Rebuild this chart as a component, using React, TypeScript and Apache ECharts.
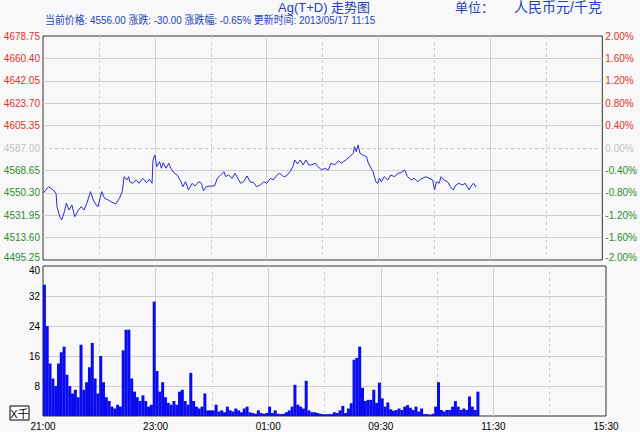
import React, { useEffect, useRef } from 'react';
import * as echarts from 'echarts';

// ---- data ----
const BASE_PRICE = 4495.25; // bottom of price axis
const xTickLabels = ['21:00', '23:00', '01:00', '09:30', '11:30', '15:30'];
const priceTickLabels = ['4495.25', '4513.60', '4531.95', '4550.30', '4568.65', '4587.00', '4605.35', '4623.70', '4642.05', '4660.40', '4678.75'];
const pctTickLabels = ['-2.00%', '-1.60%', '-1.20%', '-0.80%', '-0.40%', '0.00%', '0.40%', '0.80%', '1.20%', '1.60%', '2.00%'];
const volTickLabels = ['', '8', '16', '24', '32', '40'];

// minutes of trading since 21:00
const priceMinutes = [
  0, 6, 11, 14, 15, 18, 20, 23, 25, 28, 31, 34, 38, 41, 44, 47, 51, 54, 57, 59,
  63, 66, 70, 73, 78, 82, 85, 87, 90, 92, 93, 96, 100, 103, 107, 111, 114, 117, 118, 120,
  122, 125, 127, 129, 132, 135, 137, 141, 144, 148, 150, 153, 156, 160, 163, 167, 170, 172, 175, 180,
  184, 187, 189, 194, 196, 199, 203, 206, 208, 212, 215, 219, 222, 226, 229, 233, 237, 240, 244, 247,
  251, 254, 258, 261, 265, 268, 270, 273, 276, 279, 282, 285, 288, 292, 295, 299, 302, 306, 309, 313,
  317, 320, 324, 329, 333, 334, 336, 338, 340, 343, 347, 349, 352, 354, 357, 359, 361, 363, 366, 370,
  373, 377, 381, 384, 388, 391, 395, 398, 402, 405, 411, 414, 418, 420, 422, 425, 427, 430, 434, 437,
  440, 443, 446, 450, 453, 457, 460, 462, 464, 465,
];
const prices = [
  4549.9, 4555.3, 4552.6, 4549.9, 4538.9, 4530.7, 4528.0, 4534.8, 4541.7, 4536.2, 4540.3, 4530.7, 4536.2, 4538.9, 4536.2, 4541.7, 4551.2, 4544.4, 4540.3, 4538.9,
  4551.2, 4545.8, 4544.4, 4543.0, 4541.1, 4545.8, 4551.2, 4563.5, 4560.8, 4563.5, 4559.4, 4558.1, 4560.8, 4558.1, 4562.2, 4558.6, 4561.4, 4558.1, 4577.2, 4581.3,
  4571.7, 4575.8, 4570.4, 4575.0, 4570.4, 4574.5, 4570.4, 4566.3, 4564.9, 4559.4, 4555.3, 4559.4, 4552.6, 4558.1, 4555.9, 4559.4, 4558.1, 4552.0, 4555.3, 4555.9,
  4555.9, 4562.2, 4563.5, 4567.6, 4563.5, 4564.9, 4562.2, 4566.3, 4563.5, 4558.1, 4559.4, 4564.1, 4559.4, 4558.6, 4555.3, 4556.7, 4559.4, 4558.1, 4562.2, 4560.8,
  4564.9, 4566.3, 4563.5, 4564.1, 4567.6, 4571.7, 4577.2, 4573.9, 4577.2, 4573.1, 4577.2, 4573.1, 4573.1, 4574.5, 4571.7, 4569.0, 4570.4, 4569.0, 4574.5, 4573.1,
  4576.6, 4574.5, 4576.6, 4579.9, 4582.7, 4588.1, 4584.0, 4589.5, 4582.7, 4581.3, 4579.9, 4574.5, 4570.4, 4567.6, 4559.4, 4558.1, 4562.2, 4559.4, 4563.5, 4560.8,
  4564.9, 4563.5, 4566.3, 4566.8, 4569.0, 4563.5, 4560.8, 4562.2, 4559.4, 4561.4, 4563.5, 4562.2, 4560.8, 4552.6, 4559.4, 4558.1, 4563.5, 4560.8, 4559.4, 4555.3,
  4552.6, 4556.7, 4558.1, 4556.7, 4558.1, 4552.6, 4556.7, 4558.1, 4555.3, 4556.0,
];

// volume (thousands), one value per 3-minute bucket from 21:00
const VOL_STEP = 3;
const volumes = [
  35, 24, 14, 10, 8, 14, 17, 18.5, 11, 8,
  6, 7, 5, 19, 7, 9, 13, 19.5, 10, 6,
  16, 9, 5, 4, 2.5, 2, 3, 2.5, 17.5, 23,
  23, 10, 6.5, 5, 4, 5.5, 4, 2.5, 3, 30.5,
  12, 6.5, 9, 5, 3.5, 3, 4, 3, 6.5, 7,
  4, 3, 11.5, 4, 2.5, 2, 2.5, 6, 1.5, 1.5,
  1.5, 3, 1.2, 1.5, 1, 2.5, 1.5, 1.2, 2, 1.5,
  1, 2, 2.5, 1, 0.8, 0.6, 1.5, 0.8, 0.6, 0.8,
  2.5, 0.8, 1.5, 0.6, 0.5, 0.6, 1, 1.5, 2.5, 8.3,
  3, 2.5, 2, 9.4, 1.5, 1, 1, 0.8, 0.6, 0.5,
  0.5, 0.5, 0.5, 1, 0.8, 1.5, 2.7, 0.8, 2, 3.4,
  15, 15.5, 18.5, 7.5, 4, 4.3, 4.3, 7, 3.5, 8.9,
  4.7, 2.5, 3.6, 1.8, 1.4, 1.6, 2, 1.6, 2.5, 2.9,
  2.2, 1.6, 2.5, 1.2, 2, 0.5, 0.5, 0.4, 0.6, 2.5,
  9, 1.6, 1.2, 1.6, 1.6, 2.5, 4, 2.5, 1.6, 2,
  1.6, 5.2, 2.5, 1.6, 6.5,
];

const RED = '#e2312b';
const GREEN = '#2e8b2e';
const GRAY0 = '#c4c4c4';
const GRID = '#cfcfcf';
const T = 'rgba(0,0,0,0)';
const BG = '#f8f8f8';
const HEAD = '#2244b8';
const FONT = '"Liberation Sans", Arial, sans-serif';
const CJK = '"Liberation Sans", "Noto Sans CJK SC", sans-serif';

const colorByIndex = (_v: any, i: number) => (i < 5 ? GREEN : i === 5 ? GRAY0 : RED);
const edgeRich = {
  up: { fontSize: 10, padding: [0, 0, 5, 0] },
  down: { fontSize: 10, padding: [8, 0, 0, 0] },
};

export default function App() {
  const ref = useRef<HTMLDivElement>(null);
  useEffect(() => {
    if (!ref.current) return;
    const chart = echarts.init(ref.current, null, { renderer: 'svg' });
    const priceData = priceMinutes.map((m, i) => [m, +(prices[i] - BASE_PRICE).toFixed(2)]);
    const volData = volumes.map((v, i) => [i * VOL_STEP + VOL_STEP / 2, v]);

    const xCommon = {
      type: 'value',
      min: 0,
      max: 600,
      interval: 120,
      axisLine: { show: false },
      axisTick: { show: false },
      splitLine: { show: true, lineStyle: { color: [T, GRID, GRID, GRID, GRID, T], width: 1 } },
      minorTick: { show: false, splitNumber: 2 },
      minorSplitLine: { show: true, lineStyle: { color: GRID, width: 1, type: [3, 3] } },
    };

    chart.setOption({
      animation: false,
      backgroundColor: BG,
      textStyle: { fontFamily: FONT },
      grid: [
        { left: 43, top: 36, width: 563, height: 224, show: true, borderColor: '#333', borderWidth: 1, backgroundColor: 'transparent' },
        { left: 43, top: 266, width: 563, height: 150, show: true, borderColor: '#333', borderWidth: 1, backgroundColor: 'transparent' },
      ],
      xAxis: [
        { ...xCommon, gridIndex: 0, axisLabel: { show: false } },
        {
          ...xCommon,
          gridIndex: 1,
          axisLabel: {
            show: true,
            color: '#000',
            fontSize: 10,
            margin: 5,
            showMinLabel: true,
            showMaxLabel: true,
            formatter: (_v: number, i: number) => xTickLabels[i],
          },
        },
      ],
      yAxis: [
        {
          type: 'value',
          gridIndex: 0,
          min: 0,
          max: 183.5,
          interval: 18.35,
          position: 'left',
          axisLine: { show: false },
          axisTick: { show: false },
          axisLabel: {
            fontSize: 10,
            margin: 3,
            color: colorByIndex,
            showMinLabel: true,
            showMaxLabel: true,
            rich: edgeRich,
            formatter: (_v: number, i: number) => (i === 0 ? '{up|' + priceTickLabels[i] + '}' : priceTickLabels[i]),
          },
          splitLine: { show: true, lineStyle: { color: [T, GRID, GRID, GRID, GRID, T, GRID, GRID, GRID, GRID, T], width: 1 } },
        },
        {
          type: 'value',
          gridIndex: 0,
          min: -2,
          max: 2,
          interval: 0.4,
          position: 'right',
          axisLine: { show: false },
          axisTick: { show: false },
          axisLabel: {
            fontSize: 10,
            margin: 3,
            color: colorByIndex,
            showMinLabel: true,
            showMaxLabel: true,
            rich: edgeRich,
            formatter: (_v: number, i: number) => (i === 0 ? '{up|' + pctTickLabels[i] + '}' : pctTickLabels[i]),
          },
          splitLine: { show: true, lineStyle: { color: [T, T, T, T, T, GRAY0, T, T, T, T, T], width: 1, type: [3, 3] } },
        },
        {
          type: 'value',
          gridIndex: 1,
          min: 0,
          max: 40,
          interval: 8,
          axisLine: { show: false },
          axisTick: { show: false },
          axisLabel: {
            fontSize: 10,
            margin: 3,
            color: '#000',
            showMinLabel: true,
            showMaxLabel: true,
            rich: edgeRich,
            formatter: (_v: number, i: number) =>
              i === volTickLabels.length - 1 ? '{down|' + volTickLabels[i] + '}' : volTickLabels[i],
          },
          splitLine: { show: true, lineStyle: { color: [T, GRID, GRID, GRID, GRID, T], width: 1 } },
        },
      ],
      series: [
        {
          type: 'line',
          xAxisIndex: 0,
          yAxisIndex: 0,
          data: priceData,
          showSymbol: false,
          symbol: 'none',
          lineStyle: { color: '#2a2ad0', width: 1 },
          z: 5,
        },
        {
          type: 'bar',
          xAxisIndex: 1,
          yAxisIndex: 2,
          data: volData,
          barWidth: 3,
          itemStyle: { color: '#0b0bef', borderWidth: 0 },
          z: 3,
        },
      ],
      graphic: [
        {
          type: 'text',
          x: 278,
          y: 7,
          style: { text: 'Ag(T+D) 走势图', font: '13px ' + CJK, fill: HEAD, textVerticalAlign: 'middle' },
        },
        {
          type: 'text',
          x: 455,
          y: 7,
          style: { text: '单位：', font: '13px ' + CJK, fill: HEAD, textVerticalAlign: 'middle' },
        },
        {
          type: 'text',
          x: 514,
          y: 7,
          style: { text: '人民币元/千克', font: '14px ' + CJK, fill: HEAD, textVerticalAlign: 'middle' },
        },
        {
          type: 'text',
          x: 45,
          y: 20,
          scaleX: 0.9,
          originX: 0,
          originY: 0,
          style: {
            x: 0,
            y: 0,
            text: '当前价格: 4556.00 涨跌: -30.00 涨跌幅: -0.65% 更新时间: 2013/05/17 11:15',
            font: '11px ' + CJK,
            fill: HEAD,
            textVerticalAlign: 'middle',
          },
        },
        {
          type: 'group',
          x: 10,
          y: 406,
          children: [
            { type: 'rect', shape: { x: 0, y: 0, width: 19, height: 14 }, style: { fill: '#fff', stroke: '#000', lineWidth: 1 } },
            { type: 'text', x: 9.5, y: 7.5, style: { text: 'X千', font: '11px ' + CJK, fill: '#000', textAlign: 'center', textVerticalAlign: 'middle' } },
          ],
        },
      ],
    });
    return () => chart.dispose();
  }, []);
  return (
    <div
      ref={ref}
      style={{ position: 'fixed', left: 0, top: 0, width: 640, height: 432, background: BG }}
    />
  );
}
